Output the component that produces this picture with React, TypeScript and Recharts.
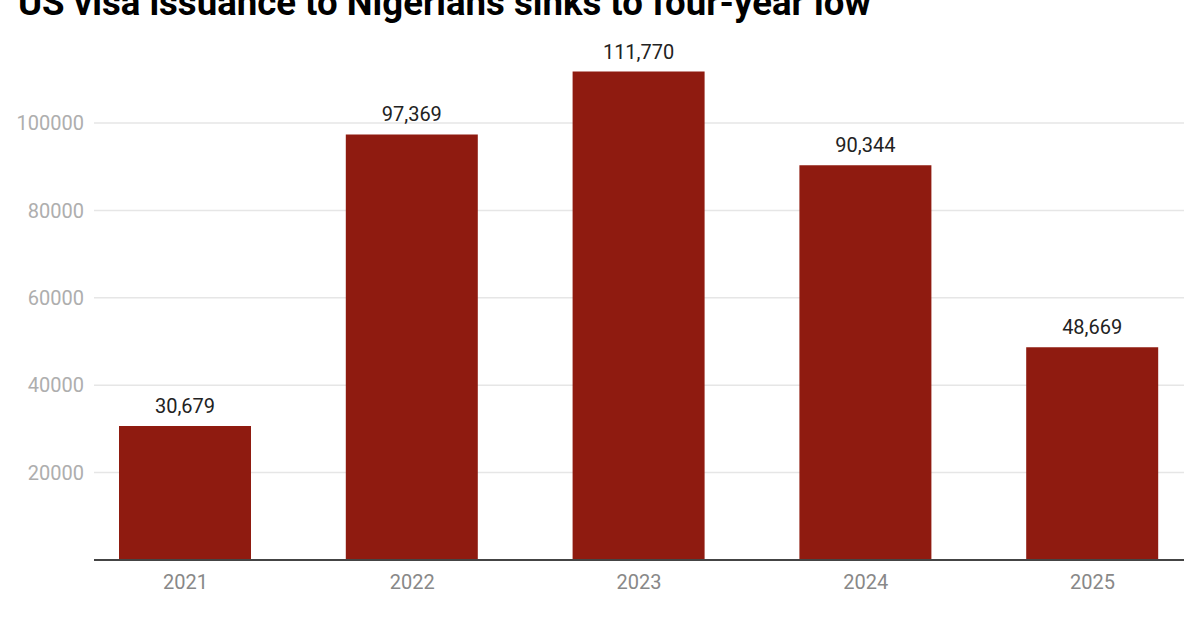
import React from 'react';
import { BarChart, Bar, XAxis, YAxis, CartesianGrid, LabelList } from 'recharts';

const years = ['2021', '2022', '2023', '2024', '2025'];
const visas = [30679, 97369, 111770, 90344, 48669];
const yTicks = [20000, 40000, 60000, 80000, 100000];

const rows = years.map((year, i) => ({ year, visas: visas[i] }));

const App: React.FC = () => {
    return (
        <div style={{ position: 'absolute', left: 0, top: 0, width: 1200, height: 630, overflow: 'hidden', background: '#fff', fontFamily: 'Roboto' }}>
            <div style={{ position: 'absolute', left: 18, top: -16, fontSize: 36.6, lineHeight: '38px', fontWeight: 700, color: '#000', whiteSpace: 'nowrap' }}>
                US visa issuance to Nigerians sinks to four-year low
            </div>
            <BarChart width={1200} height={630} data={rows} margin={{ top: 35.6, right: 16, bottom: 40, left: 0 }} barSize={132}>
                <CartesianGrid vertical={false} stroke="#e6e6e6" strokeWidth={1.5} horizontalValues={yTicks} />
                <XAxis
                    dataKey="year"
                    padding={{ left: -22, right: -22 }}
                    tickLine={false}
                    axisLine={{ stroke: '#444', strokeWidth: 2 }}
                    tick={{ fill: '#888', fontSize: 20, fontFamily: 'Roboto' }}
                    tickMargin={9}
                    interval={0}
                    height={30}
                />
                <YAxis
                    width={94}
                    domain={[0, 120000]}
                    ticks={yTicks}
                    tickLine={false}
                    axisLine={false}
                    tick={{ fill: '#aeaeae', fontSize: 20, fontFamily: 'Roboto' }}
                    tickMargin={4}
                />
                <Bar dataKey="visas" fill="#8f1b10" isAnimationActive={false}>
                    <LabelList
                        dataKey="visas"
                        position="top"
                        offset={13}
                        formatter={(v: number) => v.toLocaleString('en-US')}
                        style={{ fill: '#222', fontSize: 20, fontFamily: 'Roboto' }}
                    />
                </Bar>
            </BarChart>
        </div>
    );
};

export default App;
